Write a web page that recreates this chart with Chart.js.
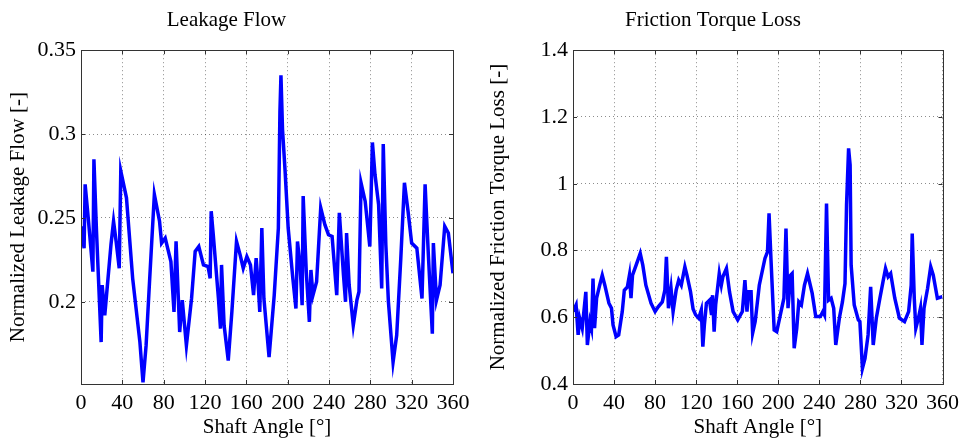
<!DOCTYPE html>
<html>
<head>
<meta charset="utf-8">
<script src="https://cdn.jsdelivr.net/npm/chart.js@4.4.1/dist/chart.umd.min.js"></script>
<style>
html, body { margin: 0; padding: 0; background: #fff; }
#wrap { position: relative; width: 965px; height: 440px; }
.panel { position: absolute; top: 0; height: 440px; }
</style>
</head>
<body>
<div id="wrap">
  <div class="panel" style="left:0;width:480px"><canvas id="leak" width="480" height="440"></canvas></div>
  <div class="panel" style="left:480px;width:485px"><canvas id="torque" width="485" height="440"></canvas></div>
</div>
<script>
// tick labels
var angleTicks = [0, 40, 80, 120, 160, 200, 240, 280, 320, 360];
var leakTicks = [0.2, 0.25, 0.3, 0.35];
var torqueTicks = [0.4, 0.6, 0.8, 1, 1.2, 1.4];

// leakage flow (normalized) vs shaft angle
var leakAngle = [0,3,4,7,11.5,12.5,15,19.5,20.5,23,29,31.5,34,37,38.5,44,50,57,60,63,66.5,71,76,78,81.5,87,90,92,95.5,98,102,107,110.5,114,118.5,123,125,126,128,133,135,136,138.5,142.5,146,150.5,154,157,160.5,164,167,169.5,171.5,173,175,177,182,187,191,192.5,193.5,195,197.5,200.5,205,208,209.5,212,214,215,218,221,222.5,224.5,228,232,236,239.5,243,247.5,250,254,256,257,259.5,263.5,267,269,271,275,279.5,282,284.5,288,291,292.5,295,297.5,302,305.5,309.5,313,316.5,320,325,330,333,336,340,341,344,347.5,352,355.5,360];
var leakValue = [0.245,0.232,0.270,0.250,0.218,0.285,0.242,0.176,0.210,0.192,0.234,0.248,0.236,0.220,0.278,0.262,0.214,0.176,0.152,0.174,0.214,0.264,0.248,0.235,0.238,0.224,0.194,0.236,0.182,0.201,0.174,0.202,0.230,0.233,0.222,0.221,0.214,0.254,0.240,0.202,0.184,0.222,0.186,0.165,0.194,0.236,0.228,0.220,0.227,0.222,0.204,0.226,0.210,0.194,0.244,0.202,0.167,0.204,0.244,0.313,0.335,0.303,0.278,0.244,0.214,0.196,0.236,0.222,0.198,0.263,0.218,0.188,0.219,0.204,0.212,0.256,0.246,0.240,0.239,0.204,0.253,0.216,0.200,0.241,0.210,0.186,0.201,0.206,0.271,0.260,0.233,0.295,0.276,0.258,0.208,0.294,0.234,0.200,0.164,0.180,0.226,0.271,0.254,0.235,0.232,0.202,0.270,0.230,0.181,0.235,0.201,0.210,0.245,0.241,0.217];

// friction torque loss (normalized) vs shaft angle
var torqueAngle = [0,3,5,6.5,9,12.5,14,16.5,18,19.5,21,23,26,28.5,31,35,37.5,39,42,44.5,48,50,53,55,56.5,58,61.5,65.5,68,71,76,80,83,87,89.5,91,93,95.5,97.5,100.5,103,105.5,109,111,114.5,117,119.5,122.5,125,126.5,128,130,133,135,136,137.5,139,142.5,144.5,146,149.5,152.5,156,160.5,165,167.5,169.5,171,173.5,175,177.5,181.5,187,189.5,191,193,196,198.5,202,205.5,207.5,209.5,212,213.5,215.5,218,220,222.5,225.5,228.5,233,236.5,241,243.5,245,247,249,251.5,254,256,259.5,262.5,265,266.5,268.5,270,271,274,278,279.5,282,284.5,287.5,290,292.5,295.5,299,302,304.5,307,309.5,313.5,318,323,327,329.5,330.5,332.5,334,336.5,338.5,340,342,345.5,348.5,351,355,360];
var torqueValue = [0.617,0.637,0.547,0.597,0.567,0.676,0.517,0.587,0.567,0.716,0.567,0.657,0.696,0.726,0.696,0.642,0.627,0.577,0.542,0.547,0.617,0.681,0.691,0.726,0.657,0.726,0.756,0.791,0.756,0.696,0.642,0.617,0.631,0.646,0.681,0.781,0.627,0.687,0.617,0.681,0.711,0.696,0.751,0.726,0.676,0.625,0.607,0.597,0.622,0.512,0.577,0.642,0.651,0.607,0.666,0.557,0.637,0.731,0.696,0.721,0.746,0.676,0.617,0.592,0.617,0.711,0.617,0.676,0.676,0.552,0.587,0.696,0.776,0.796,0.911,0.766,0.562,0.557,0.607,0.657,0.866,0.627,0.726,0.731,0.507,0.567,0.646,0.637,0.696,0.731,0.672,0.602,0.602,0.617,0.607,0.941,0.651,0.657,0.627,0.517,0.597,0.646,0.701,0.936,1.106,1.056,0.756,0.637,0.592,0.587,0.447,0.477,0.547,0.691,0.517,0.597,0.657,0.706,0.746,0.721,0.731,0.657,0.597,0.587,0.617,0.696,0.851,0.657,0.567,0.597,0.627,0.517,0.627,0.687,0.751,0.726,0.657,0.662];

var serif = "'Liberation Serif', 'Times New Roman', serif";

// box around the plot area with small inward ticks, matlab style
var boxPlugin = {
  id: 'box',
  afterDraw: function(chart) {
    var a = chart.chartArea, ctx = chart.ctx;
    var xs = chart.scales.x, ys = chart.scales.y;
    ctx.save();
    ctx.strokeStyle = '#333';
    ctx.lineWidth = 1;
    ctx.beginPath();
    xs.ticks.forEach(function(t) {
      var p = Math.round(xs.getPixelForValue(t.value)) + 0.5;
      ctx.moveTo(p, a.top); ctx.lineTo(p, a.top + 4);
      ctx.moveTo(p, a.bottom); ctx.lineTo(p, a.bottom - 4);
    });
    ys.ticks.forEach(function(t) {
      var p = Math.round(ys.getPixelForValue(t.value)) + 0.5;
      ctx.moveTo(a.left, p); ctx.lineTo(a.left + 4, p);
      ctx.moveTo(a.right, p); ctx.lineTo(a.right - 4, p);
    });
    ctx.stroke();
    ctx.strokeRect(Math.round(a.left) + 0.5, Math.round(a.top) + 0.5,
                   Math.round(a.right - a.left), Math.round(a.bottom - a.top));
    ctx.restore();
  }
};

// plain number labels, like 0.3 and 1 rather than 0.30 and 1.0
function plainLabel(v) { return String(Number(v.toFixed(3))); }

function makeChart(id, title, yTitle, xs, ys, yMin, yMax, yTicks, yWidth, padRight) {
  var pts = [];
  for (var i = 0; i < xs.length; i++) pts.push({ x: xs[i], y: ys[i] });

  return new Chart(document.getElementById(id).getContext('2d'), {
    type: 'line',
    data: {
      datasets: [{
        data: pts,
        borderColor: '#0000ff',
        borderWidth: 3.5,
        pointRadius: 0,
        tension: 0,
        fill: false
      }]
    },
    options: {
      responsive: false,
      animation: false,
      events: [],
      layout: { padding: { left: 0, right: padRight, top: 0, bottom: 0 } },
      plugins: {
        legend: { display: false },
        tooltip: { enabled: false },
        title: {
          display: true,
          text: title,
          color: '#000',
          font: { family: serif, size: 21, weight: 'normal' },
          padding: { top: 8, bottom: 17 }
        }
      },
      scales: {
        x: {
          type: 'linear',
          min: 0,
          max: 360,
          afterBuildTicks: function(s) { s.ticks = angleTicks.map(function(v) { return { value: v }; }); },
          afterFit: function(s) { s.height = 56; },
          ticks: { color: '#000', font: { family: serif, size: 22 }, padding: 6, maxRotation: 0,
                   callback: plainLabel },
          grid: { color: 'rgba(0,0,0,0.45)', drawTicks: false },
          border: { display: false, dash: [1, 3] },
          title: { display: true, text: 'Shaft Angle [°]', color: '#000',
                   font: { family: serif, size: 21 }, padding: { top: 0, bottom: 0 } }
        },
        y: {
          min: yMin,
          max: yMax,
          afterBuildTicks: function(s) { s.ticks = yTicks.map(function(v) { return { value: v }; }); },
          afterFit: function(s) { s.width = yWidth; },
          ticks: { color: '#000', font: { family: serif, size: 22 }, padding: 5,
                   callback: plainLabel },
          grid: { color: 'rgba(0,0,0,0.45)', drawTicks: false },
          border: { display: false, dash: [1, 3] },
          title: { display: true, text: yTitle, color: '#000',
                   font: { family: serif, size: 21 }, padding: { top: 6, bottom: 0 } }
        }
      }
    },
    plugins: [boxPlugin]
  });
}

makeChart('leak', 'Leakage Flow', 'Normalized Leakage Flow [-]',
          leakAngle, leakValue, 0.151, 0.35, leakTicks, 81, 27);
makeChart('torque', 'Friction Torque Loss', 'Normalized Friction Torque Loss [-]',
          torqueAngle, torqueValue, 0.4, 1.4, torqueTicks, 93, 19);
</script>
</body>
</html>
